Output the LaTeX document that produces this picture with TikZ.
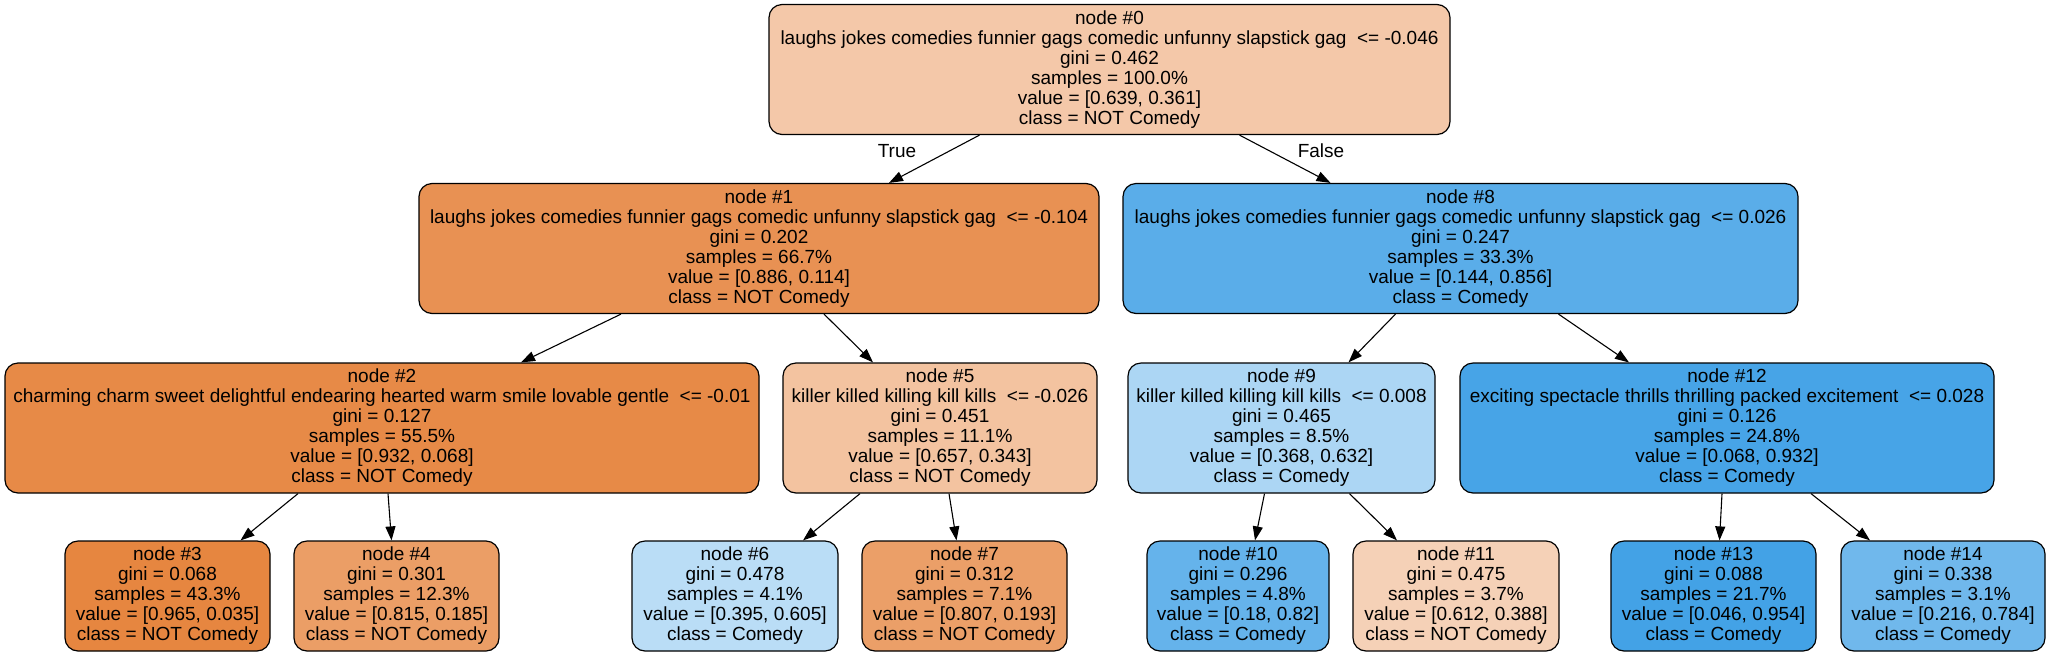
\documentclass[tikz,border=0pt]{standalone}
\usepackage{fontspec}
\setmainfont{Liberation Sans}
\usetikzlibrary{arrows.meta}
\definecolor{cO}{RGB}{229,129,57}
\definecolor{cB}{RGB}{57,157,229}
\begin{document}
\begin{tikzpicture}[x=1pt,y=-1pt,
  tnode/.style={draw=black, line width=1.2pt, rounded corners=13pt, align=center, inner sep=0pt, font=\fontsize{19}{20}\selectfont},
  innode/.style={tnode, minimum height=130pt},
  leafnode/.style={tnode, minimum height=110pt},
  conn/.style={-{Triangle[length=14pt,width=10pt]}, line width=1.1pt},
  elabel/.style={font=\fontsize{19}{20}\selectfont, inner sep=0pt}]
\useasboundingbox (0,0) rectangle (2051,657);
% level 0
\node[innode, minimum width=681pt, fill=cO!43.5!white] (n0) at (1109.5,69.5) {node \#0\\laughs jokes comedies funnier gags comedic unfunny slapstick gag\ \ <= -0.046\\gini = 0.462\\samples = 100.0\%\\value = [0.639, 0.361]\\class = NOT Comedy};
% level 1
\node[innode, minimum width=680pt, fill=cO!87.1!white] (n1) at (759,248.5) {node \#1\\laughs jokes comedies funnier gags comedic unfunny slapstick gag\ \ <= -0.104\\gini = 0.202\\samples = 66.7\%\\value = [0.886, 0.114]\\class = NOT Comedy};
\node[innode, minimum width=675pt, fill=cB!83.2!white] (n8) at (1460.5,248.5) {node \#8\\laughs jokes comedies funnier gags comedic unfunny slapstick gag\ \ <= 0.026\\gini = 0.247\\samples = 33.3\%\\value = [0.144, 0.856]\\class = Comedy};
% level 2
\node[innode, minimum width=754pt, fill=cO!92.7!white] (n2) at (382,428) {node \#2\\charming charm sweet delightful endearing hearted warm smile lovable gentle\ \ <= -0.01\\gini = 0.127\\samples = 55.5\%\\value = [0.932, 0.068]\\class = NOT Comedy};
\node[innode, minimum width=314pt, fill=cO!47.8!white] (n5) at (940,428) {node \#5\\killer killed killing kill kills\ \ <= -0.026\\gini = 0.451\\samples = 11.1\%\\value = [0.657, 0.343]\\class = NOT Comedy};
\node[innode, minimum width=307pt, fill=cB!41.8!white] (n9) at (1281.5,428) {node \#9\\killer killed killing kill kills\ \ <= 0.008\\gini = 0.465\\samples = 8.5\%\\value = [0.368, 0.632]\\class = Comedy};
\node[innode, minimum width=534pt, fill=cB!92.7!white] (n12) at (1727,428) {node \#12\\exciting spectacle thrills thrilling packed excitement\ \ <= 0.028\\gini = 0.126\\samples = 24.8\%\\value = [0.068, 0.932]\\class = Comedy};
% level 3
\node[leafnode, minimum width=205pt, fill=cO!96.4!white] (n3) at (167.5,596) {node \#3\\gini = 0.068\\samples = 43.3\%\\value = [0.965, 0.035]\\class = NOT Comedy};
\node[leafnode, minimum width=205pt, fill=cO!77.3!white] (n4) at (396.5,596) {node \#4\\gini = 0.301\\samples = 12.3\%\\value = [0.815, 0.185]\\class = NOT Comedy};
\node[leafnode, minimum width=206pt, fill=cB!34.7!white] (n6) at (735,596) {node \#6\\gini = 0.478\\samples = 4.1\%\\value = [0.395, 0.605]\\class = Comedy};
\node[leafnode, minimum width=205pt, fill=cO!76.1!white] (n7) at (964.5,596) {node \#7\\gini = 0.312\\samples = 7.1\%\\value = [0.807, 0.193]\\class = NOT Comedy};
\node[leafnode, minimum width=182pt, fill=cB!78.0!white] (n10) at (1238,596) {node \#10\\gini = 0.296\\samples = 4.8\%\\value = [0.18, 0.82]\\class = Comedy};
\node[leafnode, minimum width=206pt, fill=cO!36.6!white] (n11) at (1456,596) {node \#11\\gini = 0.475\\samples = 3.7\%\\value = [0.612, 0.388]\\class = NOT Comedy};
\node[leafnode, minimum width=205pt, fill=cB!95.2!white] (n13) at (1713.5,596) {node \#13\\gini = 0.088\\samples = 21.7\%\\value = [0.046, 0.954]\\class = Comedy};
\node[leafnode, minimum width=204pt, fill=cB!72.4!white] (n14) at (1943,596) {node \#14\\gini = 0.338\\samples = 3.1\%\\value = [0.216, 0.784]\\class = Comedy};
% edges
\draw[conn] ([xshift=-130pt]n0.south) -- ([xshift=130pt]n1.north);
\draw[conn] ([xshift=130pt]n0.south) -- ([xshift=-130pt]n8.north);
\draw[conn] ([xshift=-138pt]n1.south) -- ([xshift=139pt]n2.north);
\draw[conn] ([xshift=65pt]n1.south) -- ([xshift=-67pt]n5.north);
\draw[conn] ([xshift=-65pt]n8.south) -- ([xshift=67pt]n9.north);
\draw[conn] ([xshift=98pt]n8.south) -- ([xshift=-98pt]n12.north);
\draw[conn] ([xshift=-84pt]n2.south) -- ([xshift=73pt]n3.north);
\draw[conn] ([xshift=6pt]n2.south) -- ([xshift=-5pt]n4.north);
\draw[conn] ([xshift=-80pt]n5.south) -- ([xshift=68pt]n6.north);
\draw[conn] ([xshift=9pt]n5.south) -- ([xshift=-8pt]n7.north);
\draw[conn] ([xshift=-17pt]n9.south) -- ([xshift=17pt]n10.north);
\draw[conn] ([xshift=68pt]n9.south) -- ([xshift=-59pt]n11.north);
\draw[conn] ([xshift=-5pt]n12.south) -- ([xshift=6pt]n13.north);
\draw[conn] ([xshift=84pt]n12.south) -- ([xshift=-73pt]n14.north);
% edge labels
\node[elabel] (ltrue) at (897,151) {True};
\node[elabel] (lfalse) at (1321,151) {False};
\end{tikzpicture}
\end{document}
